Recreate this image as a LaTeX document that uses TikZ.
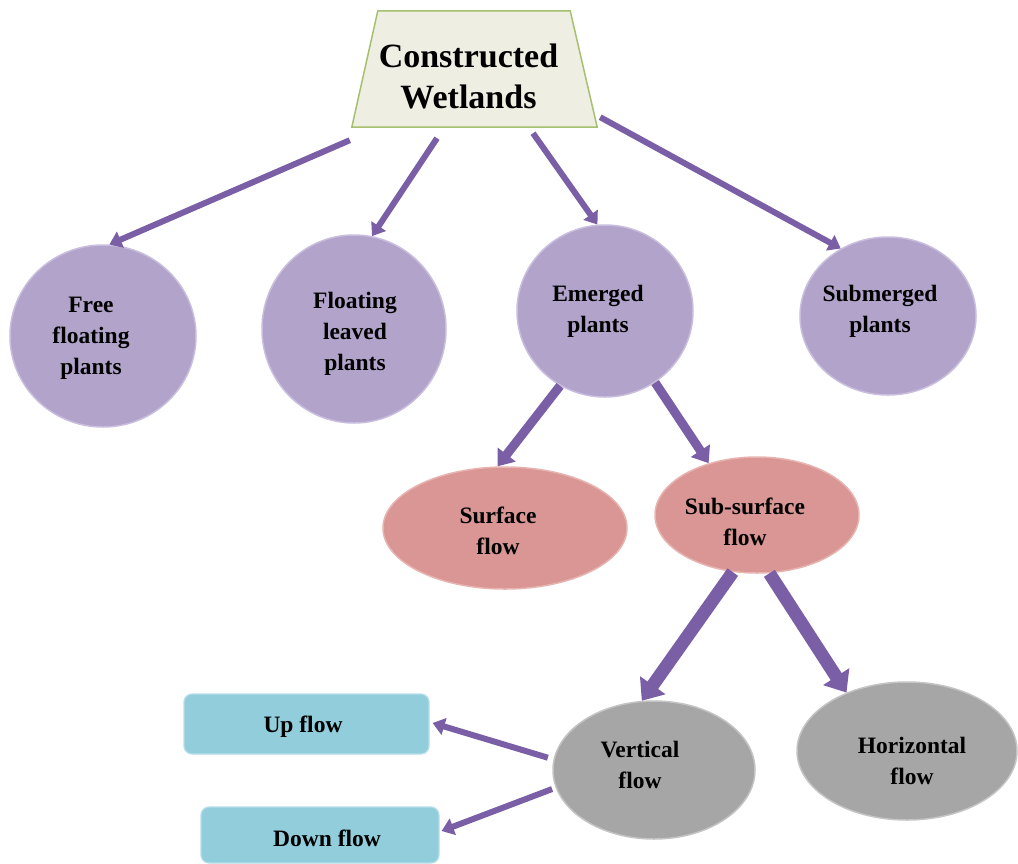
\documentclass[tikz,border=0pt]{standalone}
\usepackage{fontspec}
\setmainfont{Liberation Serif}
\usetikzlibrary{shapes.geometric,arrows.meta,calc}
\definecolor{circfill}{HTML}{B1A3CA}
\definecolor{circedge}{HTML}{C9BEDD}
\definecolor{pinkfill}{HTML}{D99694}
\definecolor{pinkedge}{HTML}{E8B4B2}
\definecolor{grayfill}{HTML}{A6A6A6}
\definecolor{grayedge}{HTML}{C4C4C4}
\definecolor{bluefill}{HTML}{92CDDC}
\definecolor{blueedge}{HTML}{B6DFE9}
\definecolor{trapfill}{HTML}{EEEEE2}
\definecolor{trapedge}{HTML}{A6C070}
\definecolor{arrowc}{HTML}{7A5FA6}
\tikzset{
  lbl/.style={font=\fontsize{23.5}{31}\selectfont\bfseries, align=center, text=black, inner sep=0pt},
  plantnode/.style={ellipse, fill=circfill, draw=circedge, line width=1.5pt, inner sep=0pt},
  flownode/.style={ellipse, fill=pinkfill, draw=pinkedge, line width=1.5pt, inner sep=0pt},
  graynode/.style={ellipse, fill=grayfill, draw=grayedge, line width=1.5pt, inner sep=0pt},
  boxnode/.style={rectangle, rounded corners=8pt, fill=bluefill, draw=blueedge, line width=1.2pt, inner sep=0pt},
  thinarr/.style={draw=arrowc, line width=6pt, -{Triangle[width=17pt,length=12pt]}},
  midarr/.style={draw=arrowc, line width=9pt, -{Triangle[width=22pt,length=15pt]}},
  fatarr/.style={draw=arrowc, line width=13pt, -{Triangle[width=30pt,length=19pt]}},
}
\begin{document}
\begin{tikzpicture}[x=1pt,y=-1pt]
\useasboundingbox (0,0) rectangle (1018,863);
\fill[white] (0,0) rectangle (1018,863);

% title trapezoid
\node[minimum width=245pt, minimum height=116pt, inner sep=0pt] (cw) at (474.5,69) {};
\draw[fill=trapfill, draw=trapedge, line width=1.5pt]
  ($(cw.north west)+(26,0)$) -- ($(cw.north east)+(-27,0)$) -- (cw.south east) -- (cw.south west) -- cycle;
\node[font=\fontsize{34}{41}\selectfont\bfseries, align=center] (cwt) at ($(cw.center)+(-6,7)$) {Constructed\\Wetlands};

% plant circles
\node[plantnode, minimum width=186pt, minimum height=182pt] (c1) at (103,336) {};
\node[lbl] (c1t) at (91,338) {Free\\floating\\plants};
\node[plantnode, minimum width=184pt, minimum height=188pt] (c2) at (354,329) {};
\node[lbl] (c2t) at (355,334) {Floating\\leaved\\plants};
\node[plantnode, minimum width=176pt, minimum height=172pt] (c3) at (605,311) {};
\node[lbl] (c3t) at (598,311) {Emerged\\plants};
\node[plantnode, minimum width=176pt, minimum height=158pt] (c4) at (888,316) {};
\node[lbl] (c4t) at (880,311) {Submerged\\plants};

% flow ellipses
\node[flownode, minimum width=244pt, minimum height=122pt] (sf) at (505,528) {};
\node[lbl] (sft) at (498,531) {Surface\\flow};
\node[flownode, minimum width=204pt, minimum height=116pt] (ss) at (757,515) {};
\node[lbl] (sst) at (745,522) {Sub-surface\\flow};

\node[graynode, minimum width=202pt, minimum height=138pt] (vf) at (654,770) {};
\node[lbl] (vft) at (640,765) {Vertical\\flow};
\node[graynode, minimum width=220pt, minimum height=138pt] (hf) at (907,751) {};
\node[lbl] (hft) at (912,761) {Horizontal\\flow};

\node[boxnode, minimum width=245pt, minimum height=60pt] (up) at (306.5,724) {};
\node[lbl] (upt) at (303,727) {Up flow};
\node[boxnode, minimum width=238pt, minimum height=56pt] (dn) at (320,835) {};
\node[lbl] (dnt) at (327,838) {Down flow};

% connectors
\draw[thinarr] ($(cw.south west)+(-2,13)$) -- (c1.86);
\draw[thinarr] ($(cw.south)+(-37.5,11)$) -- (c2.79);
\draw[thinarr] ($(cw.south)+(58.5,6)$) -- (c3.95);
\draw[thinarr] ($(cw.south east)+(3,-10)$) -- (c4.125);

\draw[midarr] (c3.239) -- (sf.97);
\draw[midarr] (c3.305) -- (ss.133);

\draw[fatarr] (ss.247) -- (vf.100);
\draw[fatarr] (ss.282) -- (hf.136);

\draw[thinarr] ($(vf.173)+(-6,0)$) -- ($(up.east)+(3,-1)$);
\draw[thinarr] ($(vf.191)+(-4,0)$) -- ($(dn.east)+(2,-4)$);
\end{tikzpicture}
\end{document}
